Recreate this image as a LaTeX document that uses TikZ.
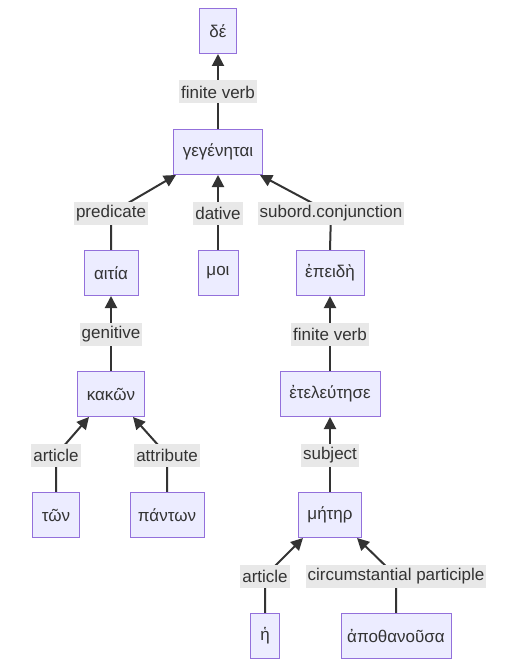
\documentclass[tikz,border=0pt]{standalone}
\usepackage{fontspec}
\setmainfont{Liberation Sans}
\usetikzlibrary{arrows.meta,calc,backgrounds}
\definecolor{nodefill}{HTML}{ECECFF}
\definecolor{nodeline}{HTML}{9370DB}
\definecolor{lblbg}{HTML}{E8E8E8}
\definecolor{edgecol}{HTML}{333333}
\definecolor{txtcol}{HTML}{333333}
\tikzset{
  wordbox/.style={draw=nodeline, fill=nodefill, line width=1pt, minimum height=45pt, inner sep=0pt, font=\fontsize{17}{20}\selectfont, text=txtcol},
  lbl/.style={fill=lblbg, inner xsep=2pt, inner ysep=0pt, minimum height=23pt, font=\fontsize{17}{20}\selectfont, text=txtcol},
  link/.style={draw=edgecol, line width=2pt, rounded corners=12pt, -{Triangle[length=12pt,width=12pt]}},
}
\begin{document}
\begin{tikzpicture}[x=1pt,y=-1pt]
\useasboundingbox (0,0) rectangle (519,671);
% words
\node[wordbox, minimum width=37pt] (de) at (218,31) {δέ};
\node[wordbox, minimum width=89pt] (geg) at (218,152) {γεγένηται};
\node[wordbox, minimum width=54pt] (aitia) at (111,273) {αιτία};
\node[wordbox, minimum width=40pt] (moi) at (218,273) {μοι};
\node[wordbox, minimum width=68pt] (epei) at (330,273) {ἐπειδὴ};
\node[wordbox, minimum width=67pt] (kakon) at (111,394) {κακῶν};
\node[wordbox, minimum width=100pt] (etel) at (330,394) {ἐτελεύτησε};
\node[wordbox, minimum width=47pt] (ton) at (56,515) {τῶν};
\node[wordbox, minimum width=74pt] (panton) at (167,515) {πάντων};
\node[wordbox, minimum width=63pt] (meter) at (330,515) {μήτηρ};
\node[wordbox, minimum width=29pt] (he) at (265,636) {ἡ};
\node[wordbox, minimum width=110pt] (apoth) at (396,636) {ἀποθανοῦσα};
% labels
\node[lbl] (lfv1) at (218,92) {finite verb};
\node[lbl] (lpred) at (111,213) {predicate};
\node[lbl] (ldat) at (218,213) {dative};
\node[lbl] (lsub) at (331,213) {subord.conjunction};
\node[lbl] (lgen) at (111,334) {genitive};
\node[lbl] (lfv2) at (330,334) {finite verb};
\node[lbl] (lart1) at (56,455) {article};
\node[lbl] (lattr) at (167,455) {attribute};
\node[lbl] (lsubj) at (330,455) {subject};
\node[lbl] (lart2) at (265,576) {article};
\node[lbl] (lcirc) at (396,576) {circumstantial participle};
% edges
\begin{pgfonlayer}{background}
\draw[link] (geg.north) -- (de.south);
\draw[link] (aitia.north) -- (lpred.center) -- ($(geg.south)+(-42,0)$);
\draw[link] (moi.north) -- (geg.south);
\draw[link] (epei.north) -- (lsub.center) -- ($(geg.south)+(42,0)$);
\draw[link] (kakon.north) -- (aitia.south);
\draw[link] (etel.north) -- (epei.south);
\draw[link] (ton.north) -- (lart1.center) -- ($(kakon.south)+(-22,0)$);
\draw[link] (panton.north) -- (lattr.center) -- ($(kakon.south)+(22,0)$);
\draw[link] (meter.north) -- (etel.south);
\draw[link] (he.north) -- (lart2.center) -- ($(meter.south)+(-27,0)$);
\draw[link] (apoth.north) -- (lcirc.center) -- ($(meter.south)+(27,0)$);
\end{pgfonlayer}
\end{tikzpicture}
\end{document}
